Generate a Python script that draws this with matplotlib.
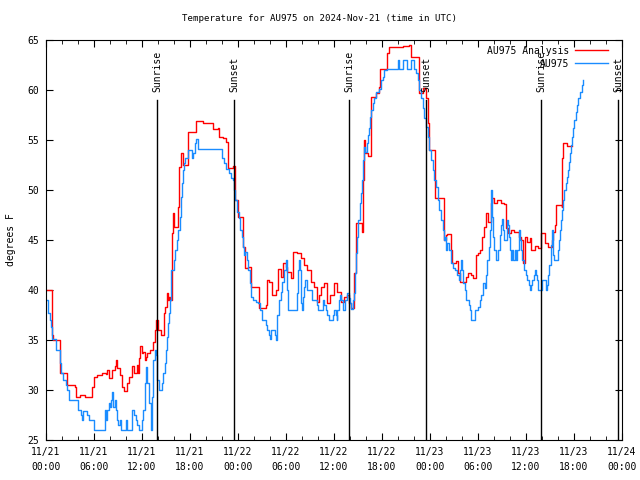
import datetime as dt
import matplotlib
matplotlib.use('Agg')
import matplotlib.pyplot as plt
import matplotlib.dates as mdates
import matplotlib.transforms as mtransforms

# hours after 2024-11-21 00:00 UTC, value starts at that time (step data)
analysis_hours = [0.0, 0.7, 0.8, 0.9, 1.71, 2.59, 3.63, 3.79, 4.25, 4.88, 5.79, 6.0, 6.41, 7.04, 7.46, 7.66, 7.88,
                  8.29, 8.59, 8.75, 8.91, 9.25, 9.54, 9.75, 10.09, 10.38, 10.79, 11.0, 11.34, 11.54, 11.63, 11.75,
                  11.96, 12.16, 12.34, 12.46, 12.59, 13.0, 13.34, 13.63, 13.75, 13.96, 14.38, 14.71, 14.91, 15.09,
                  15.21, 15.34, 15.5, 15.71, 15.84, 16.04, 16.54, 16.66, 16.88, 17.09, 17.71, 18.75, 19.59, 20.84,
                  21.46, 21.63, 22.09, 22.5, 22.71, 23.34, 23.66, 23.96, 24.66, 24.88, 25.25, 25.59, 26.63, 27.46,
                  27.66, 27.88, 28.29, 28.71, 29.04, 29.34, 29.66, 29.96, 30.16, 30.59, 30.91, 31.41, 31.84, 32.25,
                  32.66, 33.09, 33.5, 33.84, 34.13, 34.41, 34.75, 35.16, 35.5, 36.0, 36.41, 36.91, 37.25, 37.66,
                  37.91, 38.13, 38.54, 38.75, 39.5, 39.59, 39.71, 39.91, 40.21, 40.63, 41.25, 41.66, 41.79, 42.59,
                  42.91, 44.59, 45.41, 45.63, 46.59, 47.09, 47.5, 47.71, 47.91, 48.66, 49.71, 49.96, 50.16, 50.66,
                  50.79, 51.21, 51.54, 51.75, 52.46, 52.75, 53.09, 53.41, 53.71, 54.0, 54.25, 54.54, 54.75, 54.96,
                  55.29, 55.59, 55.71, 56.0, 56.41, 56.84, 57.25, 57.46, 57.75, 58.09, 58.5, 59.13, 59.41, 59.66,
                  59.84, 60.16, 60.5, 60.66, 61.13, 61.54, 61.88, 62.38, 62.79, 63.21, 63.41, 63.63, 63.75, 64.46,
                  64.54, 64.66, 65.09, 65.75]
analysis_temp = [40.0, 37.4, 35.5, 35.0, 31.7, 30.5, 30.3, 29.3, 29.5, 29.3, 30.3, 31.3, 31.5, 31.7, 31.6, 32.0, 31.2,
                 32.0, 32.4, 33.0, 32.2, 31.5, 30.3, 29.9, 30.7, 31.3, 32.4, 31.7, 32.5, 31.7, 33.2, 34.4,
                 33.7, 33.8, 33.0, 33.3, 33.7, 34.0, 34.8, 36.0, 37.0, 36.0, 35.5, 37.7, 38.3, 39.7,
                 39.0, 39.3, 39.0, 45.7, 47.7, 46.3, 48.3, 52.3, 53.7, 52.5, 55.8, 56.9, 56.7, 56.1,
                 56.2, 55.3, 55.2, 54.8, 52.2, 52.4, 49.0, 47.3, 44.3, 42.2, 42.3, 40.3, 38.2, 38.5,
                 41.0, 40.8, 39.5, 40.0, 42.1, 41.3, 42.7, 42.3, 41.8, 41.2, 43.8, 43.7, 43.2, 42.5,
                 42.0, 40.8, 40.3, 38.8, 39.5, 40.3, 40.7, 38.7, 39.5, 40.7, 39.8, 38.8, 39.3, 39.5,
                 38.7, 38.2, 41.7, 46.7, 45.8, 51.0, 55.0, 53.7, 53.4, 59.3, 59.7, 60.3, 62.1, 63.7,
                 64.3, 64.4, 64.5, 63.3, 59.7, 60.2, 59.2, 56.7, 54.0, 49.2, 45.0, 45.5, 45.6, 44.0,
                 42.7, 42.9, 41.7, 40.8, 41.3, 41.7, 41.5, 41.2, 43.5, 43.7, 44.0, 45.3, 46.3, 47.7,
                 46.8, 48.7, 49.2, 48.7, 49.0, 48.7, 48.6, 46.2, 45.7, 46.0, 45.8, 45.3, 45.0, 42.7,
                 45.3, 44.8, 45.2, 44.0, 44.4, 44.2, 45.7, 44.7, 44.3, 45.0, 45.8, 46.5, 48.5, 48.3,
                 53.2, 54.7, 54.4, 54.4]

obs_hours = [0.0, 0.25, 0.44, 0.63, 0.79, 1.21, 1.75, 1.91, 2.16, 2.46, 2.66, 2.88, 4.04, 4.34, 4.46, 4.59, 5.16,
             5.38, 6.0, 7.38, 7.5, 7.66, 7.88, 8.0, 8.09, 8.29, 8.41, 8.59, 8.71, 8.84, 9.0, 9.25, 9.41, 9.96,
             10.16, 10.79, 11.0, 11.21, 11.41, 11.63, 12.04, 12.16, 12.34, 12.46, 12.66, 12.91, 13.09, 13.21,
             13.41, 13.63, 13.75, 13.91, 14.16, 14.46, 14.66, 14.88, 15.0, 15.09, 15.21, 15.38, 15.5, 15.63,
             16.04, 16.13, 16.34, 16.54, 16.75, 16.88, 17.04, 17.16, 17.25, 17.41, 17.71, 18.25, 18.41, 18.59,
             18.75, 18.96, 22.0, 22.29, 22.5, 22.91, 23.13, 23.41, 23.54, 23.66, 23.84, 24.09, 24.25, 24.46,
             24.59, 24.79, 24.88, 25.09, 25.25, 25.5, 25.66, 25.91, 26.21, 26.5, 26.75, 26.96, 27.5, 27.66,
             27.88, 28.0, 28.09, 28.63, 28.79, 28.91, 29.13, 29.34, 29.54, 29.75, 29.96, 30.09, 30.16, 30.29,
             31.41, 31.54, 31.63, 31.75, 31.91, 32.04, 32.16, 32.25, 32.38, 32.59, 32.66, 33.29, 33.84, 34.0,
             34.59, 34.75, 34.96, 35.16, 35.38, 35.91, 36.0, 36.21, 36.34, 36.41, 36.63, 36.75, 36.91, 37.16,
             37.38, 37.63, 37.84, 38.0, 38.13, 38.34, 38.46, 38.63, 38.75, 38.88, 39.04, 39.29, 39.41, 39.5,
             39.59, 39.71, 39.88, 40.09, 40.21, 40.41, 40.5, 40.63, 40.84, 41.04, 41.25, 41.59, 41.88, 42.09,
             42.29, 42.59, 43.96, 44.09, 44.59, 45.09, 45.63, 46.04, 46.25, 46.46, 46.66, 46.88, 47.09, 47.29,
             47.5, 47.71, 47.91, 48.13, 48.34, 48.54, 48.75, 48.96, 49.16, 49.38, 49.59, 49.79, 49.88, 49.96,
             50.16, 50.38, 50.59, 50.66, 50.91, 51.13, 51.34, 51.63, 51.75, 51.91, 52.04, 52.16, 52.34, 52.46,
             52.88, 53.0, 53.16, 53.59, 54.04, 54.25, 54.41, 54.66, 54.84, 54.96, 55.16, 55.38, 55.46, 55.59,
             55.66, 55.79, 55.91, 56.0, 56.21, 56.54, 56.75, 56.91, 57.04, 57.16, 57.25, 57.59, 57.75, 57.88,
             58.0, 58.09, 58.29, 58.41, 58.59, 58.71, 58.91, 59.13, 59.25, 59.41, 59.54, 59.75, 59.96, 60.16,
             60.38, 60.5, 60.66, 60.79, 61.0, 61.09, 61.21, 61.34, 61.5, 61.96, 62.5, 62.66, 62.79, 62.91,
             63.09, 63.21, 63.34, 63.41, 63.54, 63.96, 64.13, 64.25, 64.38, 64.5, 64.66, 64.79, 64.96, 65.09,
             65.21, 65.38, 65.5, 65.63, 65.79, 65.91, 66.04, 66.21, 66.34, 66.54, 66.75, 66.96, 67.16]
obs_temp = [39.0, 37.7, 37.0, 36.3, 35.1, 34.0, 32.7, 31.7, 31.0, 30.5, 30.0, 29.0, 28.0, 27.5, 27.0, 27.9, 27.5,
            27.0, 26.0, 28.0, 27.0, 28.0, 28.7, 28.3, 29.0, 29.8, 28.3, 29.0, 28.0, 27.0, 26.5, 27.0, 26.0, 27.0,
            26.0, 28.0, 27.5, 27.0, 26.5, 26.0, 27.0, 28.0, 30.7, 32.3, 30.7, 28.7, 26.0, 29.3,
            33.0, 34.0, 33.5, 31.0, 30.0, 30.7, 31.7, 32.7, 34.0, 35.3, 36.7, 37.7, 39.0, 42.0,
            43.0, 44.0, 45.0, 46.0, 47.3, 49.3, 50.7, 52.0, 52.7, 53.2, 54.0, 53.2, 53.7, 54.7,
            55.1, 54.1, 53.2, 52.7, 52.1, 51.7, 51.2, 51.0, 50.0, 49.0, 47.8, 47.2, 46.0, 45.3,
            44.3, 43.5, 43.8, 43.0, 42.0, 40.7, 39.3, 39.0, 38.8, 38.7, 38.0, 37.0, 36.5, 36.0,
            35.5, 35.1, 36.0, 35.5, 35.0, 37.5, 39.0, 39.8, 40.8, 42.0, 43.0, 42.0, 40.0, 38.0,
            39.7, 42.0, 43.0, 42.0, 38.7, 38.0, 39.3, 40.3, 41.0, 40.5, 40.0, 39.0, 38.5, 38.0,
            39.0, 38.5, 38.0, 37.5, 37.0, 37.5, 38.0, 37.5, 37.0, 38.0, 39.0, 39.5, 39.0, 38.0,
            39.0, 39.7, 39.2, 38.7, 38.1, 39.0, 39.7, 41.7, 43.7, 45.3, 47.0, 48.7, 49.7, 51.0,
            53.0, 54.3, 53.8, 54.7, 55.5, 56.2, 57.3, 58.0, 58.7, 59.2, 59.8, 60.1, 61.0, 61.3,
            62.0, 62.1, 63.0, 62.1, 63.0, 62.1, 63.0, 62.1, 61.7, 61.0, 60.0, 59.2, 58.2, 57.2,
            56.3, 55.3, 54.0, 53.0, 52.0, 51.0, 50.3, 49.0, 48.0, 47.0, 46.0, 45.0, 45.3, 44.0,
            44.7, 44.0, 43.5, 42.7, 42.2, 42.0, 41.5, 41.0, 42.0, 43.0, 42.0, 40.7, 40.0, 39.0,
            38.5, 38.0, 37.0, 38.0, 38.3, 39.0, 39.5, 40.7, 40.2, 41.5, 43.0, 44.3, 46.0, 48.5,
            50.0, 47.3, 45.3, 44.0, 43.0, 44.0, 45.5, 46.5, 47.1, 46.0, 45.0, 47.0, 46.5, 45.3,
            44.0, 43.0, 44.0, 43.0, 44.0, 43.0, 44.0, 46.0, 45.0, 44.0, 43.0, 42.0, 41.5, 41.0,
            40.5, 40.0, 40.5, 41.0, 41.5, 42.0, 41.5, 41.0, 40.0, 41.0, 40.0, 40.5, 41.5, 42.5,
            44.5, 46.0, 44.3, 43.5, 43.0, 44.0, 45.0, 46.0, 47.0, 48.0, 49.0, 50.0, 50.7, 51.3,
            52.0, 52.8, 53.7, 54.5, 55.3, 56.2, 57.0, 57.8, 58.5, 59.2, 59.8, 60.5, 61.0]

sun_events = ['2024-11-21 13:55', '2024-11-21 23:33', '2024-11-22 13:55',
              '2024-11-22 23:33', '2024-11-23 13:56', '2024-11-23 23:33']
sun_labels = ['Sunrise', 'Sunset', 'Sunrise', 'Sunset', 'Sunrise', 'Sunset']

start = dt.datetime(2024, 11, 21)
t_an = [start + dt.timedelta(hours=h) for h in analysis_hours]
t_obs = [start + dt.timedelta(hours=h) for h in obs_hours]

plt.rcParams['font.family'] = ['DejaVu Sans Mono']
plt.rcParams['font.size'] = 7

fig = plt.figure(figsize=(6.4, 4.8), dpi=100)
ax = fig.add_axes([46 / 640, 40 / 480, 576 / 640, 400 / 480])

ax.plot(t_an, analysis_temp, color='red', lw=1, drawstyle='steps-post', label='AU975 Analysis')
ax.plot(t_obs, obs_temp, color='#1a8cff', lw=1, drawstyle='steps-post', label='AU975')

trans = mtransforms.blended_transform_factory(ax.transData, ax.transAxes)
for s, lab in zip(sun_events, sun_labels):
    t = dt.datetime.strptime(s, '%Y-%m-%d %H:%M')
    ax.axvline(t, ymin=0, ymax=0.85, color='black', lw=1)
    ax.text(t, 0.87, lab, transform=trans, rotation=90, ha='center', va='bottom')

ax.set_xlim(start, start + dt.timedelta(days=3))
ax.set_ylim(25, 65)
ax.set_yticks(range(25, 66, 5))
ax.xaxis.set_major_locator(mdates.HourLocator(byhour=range(0, 24, 6)))
ax.xaxis.set_minor_locator(mdates.HourLocator(byhour=range(0, 24, 2)))
ax.xaxis.set_major_formatter(mdates.DateFormatter('%m/%d\n%H:%M'))
ax.tick_params(which='both', direction='in', top=True, right=True)
ax.tick_params(which='major', length=5, pad=5)
ax.tick_params(which='minor', length=3)
for lbl in ax.get_xticklabels():
    lbl.set_linespacing(1.6)

# title is centred on the figure, not on the axes
ax.set_title('Temperature for AU975 on 2024-Nov-21 (time in UTC)', pad=14,
             x=(320 - 46) / 576, fontsize=6.6)
ax.set_ylabel('degrees F', labelpad=8)
ax.legend(loc='upper right', bbox_to_anchor=(0.985, 1.0), frameon=False, markerfirst=False,
          handlelength=3.3, handletextpad=0.6, labelspacing=0.3, borderaxespad=0.2)

fig.savefig('out.png', dpi=100)
